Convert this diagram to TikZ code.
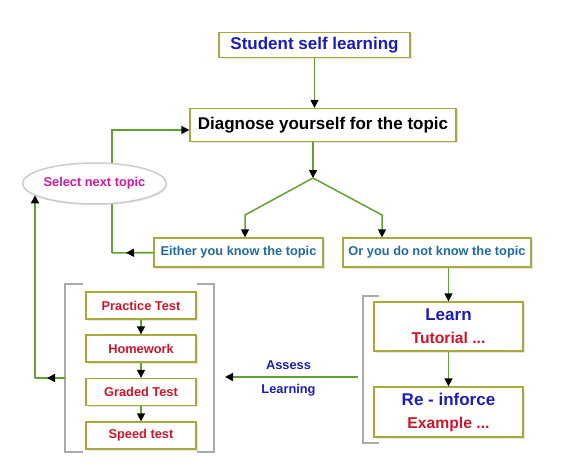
\documentclass[tikz,border=0pt]{standalone}
\usepackage{fontspec}
\setmainfont{Liberation Sans}
\usetikzlibrary{arrows.meta,shapes.geometric,shadows,backgrounds}

\definecolor{boxline}{RGB}{168,168,60}
\definecolor{flowgreen}{RGB}{98,162,52}
\definecolor{brackgray}{RGB}{170,170,170}
\definecolor{deepblue}{RGB}{28,28,185}
\definecolor{topicblue}{RGB}{32,108,158}
\definecolor{testred}{RGB}{205,22,42}
\definecolor{pickpink}{RGB}{205,25,160}

\tikzset{
  stepbox/.style={draw=boxline,line width=1.3pt,fill=white,inner sep=0pt,
    drop shadow={shadow xshift=1.5pt,shadow yshift=-1.5pt,opacity=0.2}},
  line/.style={draw=flowgreen,line width=1.5pt},
  flow/.style={line,-{Triangle[black,length=8pt,width=8pt]}},
  brack/.style={draw=brackgray,line width=1.4pt},
  bigtext/.style={font=\fontsize{17}{20}\selectfont\bfseries},
  smalltext/.style={font=\fontsize{12.8}{15}\selectfont\bfseries},
}

\begin{document}
\begin{tikzpicture}[x=1pt,y=-1pt]
\useasboundingbox (0,0) rectangle (575,476);

% top part
\node[stepbox,bigtext,text=deepblue,minimum width=191pt,minimum height=25pt] (start) at (314.5,45) {Student self learning};
\node[stepbox,bigtext,minimum width=266pt,minimum height=33pt] (diag) at (323,125) {Diagnose yourself for the topic};
\node[stepbox,smalltext,text=topicblue,minimum width=169pt,minimum height=29pt] (either) at (238.5,252.5) {Either you know the topic};
\node[stepbox,smalltext,text=topicblue,minimum width=188pt,minimum height=29pt] (or) at (437,252.5) {Or you do not know the topic};
\node[ellipse,draw=gray!40,line width=1.5pt,fill=white,inner sep=0pt,
  minimum width=143pt,minimum height=41pt,smalltext,text=pickpink,
  drop shadow={shadow xshift=1pt,shadow yshift=-1.5pt,opacity=0.15}] (select) at (94.5,183.5) {Select next topic};

% learning side
\node[stepbox,minimum width=149pt,minimum height=49pt,align=center,font=\fontsize{16}{23}\selectfont\bfseries] (learn) at (448.5,326.5)
  {\textcolor{deepblue}{\fontsize{17}{20}\selectfont Learn}\\\textcolor{testred}{\fontsize{15.7}{20}\selectfont Tutorial ...}};
\node[stepbox,minimum width=149pt,minimum height=50pt,align=center,font=\fontsize{16}{23}\selectfont\bfseries] (reinforce) at (448.5,412)
  {\textcolor{deepblue}{\fontsize{17}{20}\selectfont Re - inforce}\\\textcolor{testred}{\fontsize{15.7}{20}\selectfont Example ...}};

% test side
\foreach \y/\n/\t in {305.5/practice/Practice Test,348.5/homework/Homework,392/graded/Graded Test,435.5/speed/Speed test}
  \node[stepbox,smalltext,text=testred,minimum width=110pt,minimum height=27pt] (\n) at (141,\y) {\t};
\foreach \a/\b in {practice/homework,homework/graded,graded/speed}
  \draw[flow] (\a) -- (\b);

% brackets
\draw[brack] (83,284) -- (65,284) -- (65,452) -- (83,452);
\draw[brack] (197,284) -- (214,284) -- (214,452) -- (197,452);
\draw[brack] (379,296) -- (363,296) -- (363,443) -- (379,443);

\coordinate (fork) at (313,178);
\coordinate (lbend) at (245,215);
\coordinate (rbend) at (382,215);
\coordinate (kturn) at (112,253);
\coordinate (testsout) at (65,378);
\coordinate (lturn) at (35,378);
\coordinate (learnout) at (363,377);
\coordinate (testsin) at (214,377);

\draw[flow] (start) -- (start |- diag.north);
\draw[flow] (fork |- diag.south) -- (fork);
\draw[flow] (fork) -- (lbend) -- (lbend |- either.north);
\draw[flow] (fork) -- (rbend) -- (rbend |- or.north);
\draw[flow] (or.south -| learn.north) -- (learn.north);
\draw[flow] (learn) -- (reinforce);

% loops back
\draw[line] (either.west) -- (kturn);
\draw[flow,shorten >=14pt] (either.west) -- (kturn);
\begin{scope}[on background layer]
\draw[flow] (kturn) |- ([yshift=-5pt]diag.west);
\end{scope}
\draw[line] (testsout) -- (lturn);
\draw[flow,shorten >=12pt] (testsout) -- (lturn);
\draw[flow] (lturn) -- (lturn |- select.191);

\draw[flow,shorten <=5pt,shorten >=11pt] (learnout) -- (testsin)
  node[midway,above=3pt,smalltext,text=deepblue] (assess) {Assess}
  node[midway,below=3pt,smalltext,text=deepblue] (learning) {Learning};
\end{tikzpicture}
\end{document}
